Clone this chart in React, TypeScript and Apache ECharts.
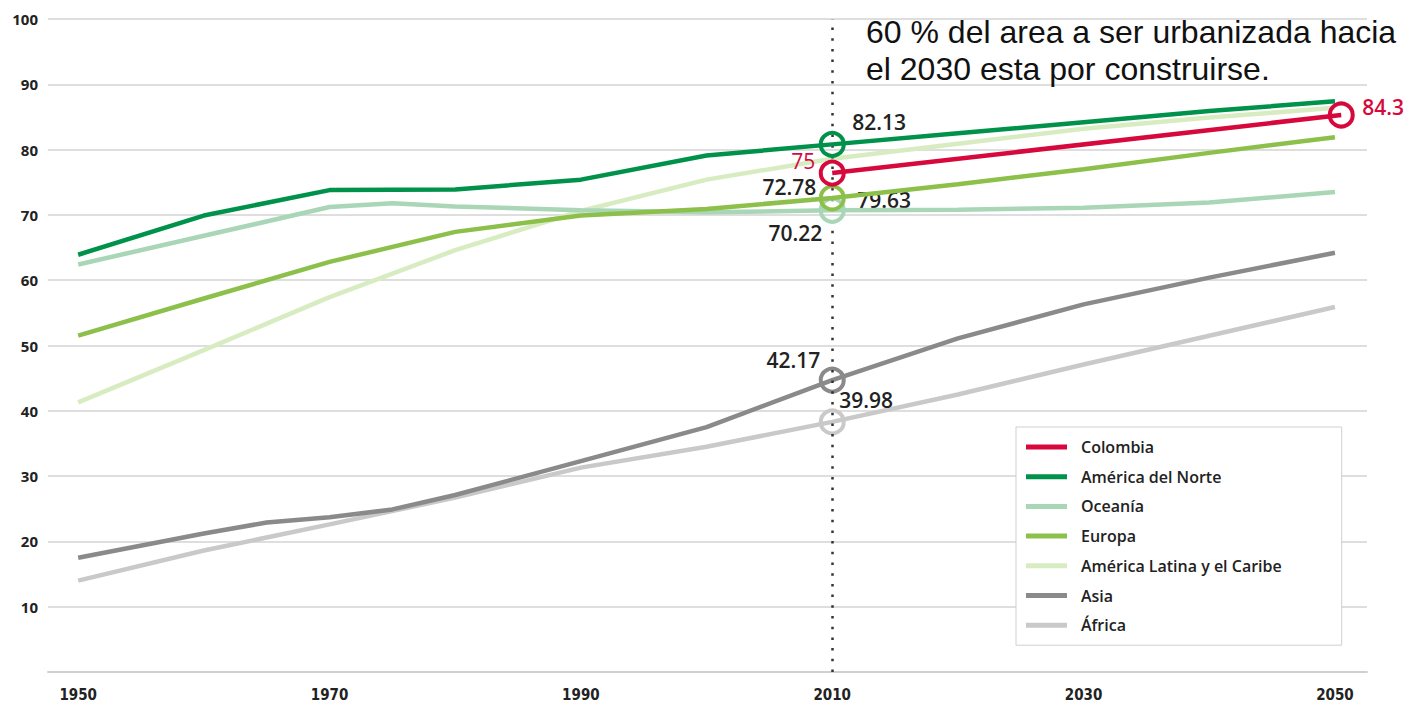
import React, { useEffect, useRef } from "react";
import * as echarts from "echarts";

// ---- data ----
const decadeYears = [1950, 1960, 1970, 1980, 1990, 2000, 2010, 2020, 2030, 2040, 2050];
const oceaniaYears = [1950, 1960, 1970, 1975, 1980, 1990, 2000, 2010, 2020, 2030, 2040, 2050];
const asiaYears = [1950, 1960, 1965, 1970, 1975, 1980, 1990, 2000, 2010, 2020, 2030, 2040, 2050];
const colombiaYears = [2010, 2050.5];

const colombia = [76.4, 85.3];
const norteAmerica = [63.9, 69.9, 73.8, 73.9, 75.4, 79.1, 80.8, 82.5, 84.2, 85.9, 87.4];
const oceania = [62.4, 66.8, 71.2, 71.8, 71.3, 70.7, 70.4, 70.7, 70.8, 71.1, 71.9, 73.5];
const europa = [51.5, 57.2, 62.8, 67.4, 69.9, 70.9, 72.6, 74.7, 77.0, 79.5, 81.9];
const latinoamerica = [41.3, 49.3, 57.4, 64.6, 70.6, 75.4, 78.6, 80.9, 83.2, 84.9, 86.4];
const asia = [17.5, 21.2, 22.9, 23.7, 24.9, 27.1, 32.3, 37.5, 44.7, 51.1, 56.3, 60.4, 64.2];
const africa = [14.0, 18.6, 22.6, 26.7, 31.3, 34.5, 38.3, 42.5, 47.1, 51.5, 55.9];

const legendNames = [
  "Colombia",
  "América del Norte",
  "Oceanía",
  "Europa",
  "América Latina y el Caribe",
  "Asia",
  "África",
];

const xTickLabels = [1950, 1970, 1990, 2010, 2030, 2050];
const markerYear = 2010;

const calloutNames = [
  "América del Norte",
  "Colombia",
  "Europa",
  "América Latina y el Caribe",
  "Oceanía",
  "Asia",
  "África",
  "Colombia",
];
const calloutYears = [2010, 2010, 2010, 2010, 2010, 2010, 2010, 2050.5];
const calloutTexts = ["82.13", "75", "72.78", "79.63", "70.22", "42.17", "39.98", "84.3"];

const noteText = "60 % del area a ser urbanizada hacia\nel 2030 esta por construirse.";

// ---- styles ----
const colors: Record<string, string> = {
  Colombia: "#d6083c",
  "América del Norte": "#00924a",
  "Oceanía": "#a8d6b6",
  Europa: "#8cc04a",
  "América Latina y el Caribe": "#d8ecc1",
  Asia: "#8a8a8a",
  "África": "#c9c9c9",
};

const calloutStyles = [
  { ring: true, align: "left", offset: [20, -22], color: "#222", weight: 600 },
  { ring: true, align: "right", offset: [-17, -12], color: "#d6083c", weight: 400 },
  { ring: true, align: "right", offset: [-16, -11], color: "#222", weight: 600 },
  { ring: false, align: "left", offset: [25, 41], color: "#222", weight: 600 },
  { ring: true, align: "right", offset: [-10, 23], color: "#222", weight: 600 },
  { ring: true, align: "right", offset: [-12, -20], color: "#222", weight: 600 },
  { ring: true, align: "left", offset: [7, -22], color: "#222", weight: 600 },
  { ring: true, align: "left", offset: [21, -8], color: "#d6083c", weight: 600 },
];

const seriesDefs: { name: string; years: number[]; values: number[] }[] = [
  { name: "África", years: decadeYears, values: africa },
  { name: "Asia", years: asiaYears, values: asia },
  { name: "América Latina y el Caribe", years: decadeYears, values: latinoamerica },
  { name: "Oceanía", years: oceaniaYears, values: oceania },
  { name: "Europa", years: decadeYears, values: europa },
  { name: "América del Norte", years: decadeYears, values: norteAmerica },
  { name: "Colombia", years: colombiaYears, values: colombia },
];

const numFont = '"Open Sans", "Noto Sans", sans-serif';

function buildSeries() {
  return seriesDefs.map((def, si) => {
    const color = colors[def.name];
    const data = def.years.map((yr, i) => {
      const item: any = { value: [yr, def.values[i]], symbol: "none" };
      calloutNames.forEach((cn, ci) => {
        if (cn === def.name && calloutYears[ci] === yr) {
          const st = calloutStyles[ci];
          item.symbol = "circle";
          item.symbolSize = st.ring ? 23 : 1;
          item.itemStyle = st.ring
            ? { color: "rgba(255,255,255,0)", borderColor: color, borderWidth: 4 }
            : { color: "rgba(255,255,255,0)", borderWidth: 0 };
          item.label = {
            show: true,
            position: "inside",
            formatter: calloutTexts[ci],
            align: st.align,
            verticalAlign: "middle",
            offset: st.offset,
            fontFamily: numFont,
            fontSize: 21,
            fontWeight: st.weight,
            color: st.color,
          };
        }
      });
      return item;
    });
    const s: any = {
      name: def.name,
      type: "line",
      data,
      symbol: "none",
      showSymbol: true,
      color,
      itemStyle: { color },
      lineStyle: { color, width: 4.5 },
      emphasis: { disabled: true },
      silent: true,
      z: 2 + si,
    };
    if (def.name === "Colombia") {
      s.markLine = {
        silent: true,
        symbol: "none",
        label: { show: false },
        lineStyle: { color: "#333", type: [2.5, 8.2], width: 2.5 },
        data: [{ xAxis: markerYear }],
      };
    }
    return s;
  });
}

export default function App() {
  const ref = useRef<HTMLDivElement>(null);
  useEffect(() => {
    if (!ref.current) return;
    const chart = echarts.init(ref.current, null, { renderer: "svg" });
    chart.setOption({
      animation: false,
      backgroundColor: "#fff",
      grid: { left: 48, right: 47, top: 19, bottom: 32, containLabel: false },
      xAxis: {
        type: "value",
        min: 1947.6,
        max: 2052.55,
        splitLine: { show: false },
        axisTick: { show: false },
        axisLine: { show: true, lineStyle: { color: "#d0d0d0", width: 2 } },
        axisLabel: {
          customValues: xTickLabels,
          formatter: (v: number) => String(v),
          margin: 15,
          fontFamily: '"DejaVu Sans Condensed", sans-serif',
          fontWeight: "bold",
          fontSize: 15,
          color: "#222",
        },
      },
      yAxis: {
        type: "value",
        min: 0,
        max: 100,
        interval: 10,
        axisLine: { show: false },
        axisTick: { show: false },
        splitLine: { show: true, lineStyle: { color: "#d3d3d3", width: 1.5 } },
        axisLabel: {
          formatter: (v: number) => (v === 0 ? "" : String(v)),
          margin: 10,
          fontFamily: numFont,
          fontWeight: "bold",
          fontSize: 15,
          color: "#222",
        },
      },
      legend: {
        data: legendNames,
        orient: "vertical",
        left: 1016,
        top: 427,
        padding: [11, 60, 11, 10],
        itemGap: 11.7,
        itemWidth: 41,
        itemHeight: 5,
        icon: "rect",
        selectedMode: false,
        backgroundColor: "#fff",
        borderColor: "#cfcfcf",
        borderWidth: 1,
        textStyle: {
          fontFamily: numFont,
          fontWeight: 600,
          fontSize: 16,
          color: "#222",
          lineHeight: 18,
          padding: [0, 0, 0, 9],
        },
      },
      graphic: [
        {
          type: "text",
          left: 866,
          top: 13,
          z: 100,
          style: {
            text: noteText,
            font: '32px "Liberation Sans", Arial, sans-serif',
            fill: "#111",
            lineHeight: 37,
          },
        },
      ],
      series: buildSeries(),
    });
    return () => chart.dispose();
  }, []);
  return (
    <div
      ref={ref}
      style={{ position: "fixed", left: 0, top: 0, width: 1414, height: 704 }}
    />
  );
}
